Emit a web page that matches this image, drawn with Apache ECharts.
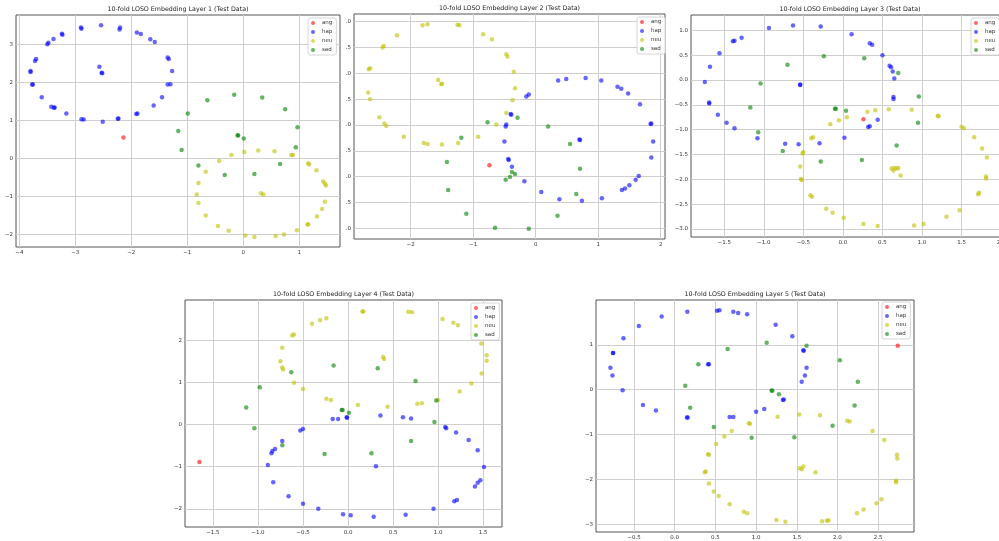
<!DOCTYPE html>
<html>
<head>
<meta charset="utf-8">
<script src="https://cdn.jsdelivr.net/npm/echarts@6/dist/echarts.min.js"></script>
<style>
  html, body { margin: 0; padding: 0; background: #fff; }
  #main { width: 999px; height: 541px; }
</style>
</head>
<body>
<div id="main"></div>
<script>
// layer 1
var l1Ang = [[-2.14, 0.55]];
var l1Hap = [[-2.90, 3.44], [-2.89, 3.41], [-2.54, 3.50], [-2.20, 3.44], [-2.21, 3.39], [-3.24, 3.28], [-3.23, 3.25],
    [-3.39, 3.14], [-3.48, 3.04], [-3.50, 3.00], [-3.70, 2.61], [-3.72, 2.56], [-3.80, 2.30], [-3.80, 2.27],
    [-3.77, 1.94], [-3.76, 1.94], [-3.60, 1.61], [-3.43, 1.36], [-3.38, 1.33], [-3.37, 1.34], [-3.16, 1.18],
    [-2.89, 1.03], [-2.85, 1.02], [-2.51, 0.96], [-2.24, 1.04], [-2.23, 1.05], [-1.91, 1.17], [-1.89, 1.18],
    [-1.60, 1.39], [-1.45, 1.61], [-1.35, 1.94], [-1.30, 1.95], [-1.27, 2.30], [-1.35, 2.65], [-1.33, 2.61],
    [-1.58, 3.06], [-1.66, 3.13], [-1.90, 3.31], [-1.83, 3.27], [-2.57, 2.41], [-2.53, 2.25], [-2.52, 2.24]];
var l1Neu = [[-0.21, 0.09], [-0.43, -0.07], [0.02, 0.17], [0.27, 0.21], [0.56, 0.19], [0.86, 0.09], [0.89, 0.09],
    [1.16, -0.13], [1.18, -0.16], [1.31, -0.31], [1.43, -0.61], [1.46, -0.66], [1.48, -0.71], [1.46, -1.14],
    [1.41, -1.33], [1.32, -1.53], [1.16, -1.73], [1.15, -1.74], [0.96, -1.89], [0.73, -2.00], [0.58, -2.04],
    [0.20, -2.07], [0.04, -2.03], [-0.26, -1.90], [-0.45, -1.78], [-0.67, -1.50], [-0.80, -1.17], [-0.83, -0.95],
    [-0.80, -0.65], [-0.67, -0.35], [0.32, -0.92], [0.36, -0.95]];
var l1Sad = [[-0.64, 1.53], [-0.16, 1.67], [0.34, 1.60], [0.75, 1.29], [0.97, 0.82], [0.94, 0.29], [-0.10, 0.61],
    [-0.09, 0.60], [0.01, 0.52], [-0.99, 1.18], [-1.16, 0.72], [-1.10, 0.22], [-0.80, -0.19], [-0.33, -0.44],
    [0.20, -0.41], [0.66, -0.15]];

// layer 2
var l2Ang = [[-0.74, -0.78]];
var l2Hap = [[0.36, 0.86], [0.49, 0.89], [0.80, 0.91], [1.05, 0.86], [1.31, 0.74], [1.37, 0.70], [1.48, 0.61],
    [1.67, 0.40], [1.85, 0.03], [1.84, 0.02], [1.88, -0.32], [1.85, -0.63], [1.65, -0.99], [1.60, -1.06],
    [1.50, -1.17], [1.43, -1.23], [1.38, -1.26], [1.06, -1.42], [0.74, -1.47], [0.38, -1.44], [0.09, -1.30],
    [-0.18, -1.09], [-0.38, -0.81], [-0.43, -0.68], [-0.44, -0.66], [-0.50, -0.32], [-0.47, 0.01], [-0.48, -0.03],
    [-0.39, 0.20], [-0.40, 0.21], [-0.15, 0.55], [-0.11, 0.59], [0.70, -0.28], [0.71, -0.29]];
var l2Neu = [[-1.81, 1.93], [-1.73, 1.95], [-1.25, 1.94], [-1.22, 1.93], [-2.22, 1.74], [-0.84, 1.76], [-0.70, 1.66],
    [-2.45, 1.50], [-2.43, 1.53], [-0.47, 1.37], [-0.45, 1.32], [-2.67, 1.08], [-2.65, 1.10], [-0.35, 1.03],
    [-1.56, 0.87], [-1.51, 0.79], [-1.50, 0.80], [-0.33, 0.71], [-2.68, 0.63], [-2.65, 0.50], [-0.37, 0.48],
    [-0.47, 0.23], [-2.50, 0.15], [-2.42, 0.03], [-2.39, -0.02], [-0.63, 0.01], [-2.11, -0.23], [-0.92, -0.23],
    [-1.79, -0.35], [-1.73, -0.37], [-1.50, -0.38], [-1.24, -0.35]];
var l2Sad = [[-0.77, 0.05], [-0.29, 0.14], [0.20, -0.03], [0.55, -0.37], [0.71, -0.85], [-1.19, -0.25], [-1.42, -0.72],
    [-1.40, -1.26], [-1.11, -1.72], [-0.65, -1.99], [-0.11, -2.01], [0.35, -1.76], [0.65, -1.34], [-0.48, -1.06],
    [-0.41, -1.01], [-0.38, -0.91], [-0.33, -0.95]];

// layer 3
var l3Ang = [[0.26, -0.79]];
var l3Hap = [[-1.745, -0.04], [-1.68, 0.27], [-1.69, -0.45], [-1.69, -0.47], [-1.56, 0.54], [-1.39, 0.78], [-1.37, 0.79],
    [-1.28, 0.85], [-0.935, 1.05], [-0.63, 1.10], [-0.28, 1.08], [0.11, 0.92], [0.34, 0.74], [0.37, 0.71],
    [0.50, 0.50], [0.59, 0.29], [0.61, 0.26], [0.63, 0.17], [0.65, 0.03], [0.64, -0.34], [0.64, -0.38],
    [0.44, -0.80], [0.32, -0.945], [0.34, -0.93], [0.02, -1.16], [-0.295, -1.27], [-0.56, -1.29], [-0.73, -1.28],
    [-1.08, -1.17], [-1.37, -0.97], [-1.47, -0.86], [-1.58, -0.70], [-0.54, -0.09], [-0.54, -0.10]];
var l3Neu = [[0.31, -0.64], [0.41, -0.61], [0.58, -0.59], [0.87, -0.60], [1.20, -0.72], [1.21, -0.73], [1.50, -0.94],
    [1.53, -0.97], [1.66, -1.15], [1.76, -1.38], [1.82, -1.56], [1.81, -1.94], [1.81, -1.98], [1.72, -2.27],
    [1.71, -2.30], [1.475, -2.62], [1.31, -2.75], [1.02, -2.90], [0.90, -2.93], [0.26, -2.90], [0.44, -2.94],
    [0.01, -2.77], [-0.13, -2.67], [-0.21, -2.59], [-0.41, -2.32], [-0.39, -2.35], [-0.53, -1.99], [-0.52, -2.01],
    [-0.54, -1.74], [-0.50, -1.45], [-0.51, -1.48], [-0.40, -1.17], [-0.375, -1.15], [-0.16, -0.89], [-0.05, -0.81],
    [0.05, -0.75], [0.615, -1.78], [0.65, -1.77], [0.68, -1.78], [0.64, -1.82], [0.70, -1.77], [0.73, -1.92]];
var l3Sad = [[-0.70, 0.31], [-0.24, 0.48], [0.27, 0.44], [0.70, 0.14], [0.96, -0.33], [0.95, -0.86], [0.68, -1.32],
    [0.24, -1.61], [-0.28, -1.64], [-0.76, -1.43], [-1.07, -1.05], [-1.17, -0.55], [-1.04, -0.07], [-0.09, -0.58],
    [-0.10, -0.58], [0.04, -0.62]];

// layer 4
var l4Ang = [[-1.65, -0.89]];
var l4Hap = [[-0.17, 0.13], [-0.11, 0.13], [-0.015, 0.17], [-0.01, 0.16], [0.36, 0.21], [0.61, 0.17], [0.70, 0.14],
    [1.08, -0.06], [1.09, -0.09], [1.20, -0.19], [1.34, -0.37], [1.44, -0.61], [1.51, -1.01], [1.47, -1.32],
    [1.44, -1.38], [1.41, -1.47], [1.21, -1.79], [1.18, -1.82], [0.95, -2.00], [0.64, -2.14], [0.285, -2.19],
    [0.03, -2.15], [-0.055, -2.13], [-0.33, -2.00], [-0.50, -1.88], [-0.66, -1.70], [-0.83, -1.37], [-0.89, -0.96],
    [-0.85, -0.68], [-0.84, -0.63], [-0.81, -0.58], [-0.73, -0.39], [-0.53, -0.14], [-0.50, -0.11], [0.31, -0.99]];
var l4Neu = [[0.16, 2.68], [0.17, 2.68], [0.67, 2.67], [0.71, 2.66], [-0.24, 2.52], [-0.31, 2.47], [-0.40, 2.39],
    [1.05, 2.50], [1.17, 2.41], [1.22, 2.35], [1.39, 2.14], [-0.60, 2.13], [-0.62, 2.11], [1.48, 1.92],
    [-0.73, 1.82], [1.54, 1.64], [1.54, 1.51], [-0.75, 1.50], [-0.73, 1.35], [-0.72, 1.30], [0.39, 1.60],
    [0.40, 1.55], [1.485, 1.21], [1.37, 0.97], [1.24, 0.78], [-0.60, 0.99], [-0.50, 0.84], [-0.24, 0.61],
    [-0.19, 0.58], [0.11, 0.46], [0.44, 0.42], [0.77, 0.49], [0.82, 0.50], [1.00, 0.58]];
var l4Sad = [[-1.13, 0.40], [-0.98, 0.88], [-1.04, -0.09], [-0.63, 1.24], [-0.16, 1.40], [0.33, 1.33], [0.75, 1.03],
    [0.98, 0.57], [0.96, 0.06], [0.70, -0.39], [0.26, -0.68], [-0.26, -0.70], [-0.73, -0.49], [-0.07, 0.34],
    [-0.06, 0.34], [0.01, 0.28]];

// layer 5
var l5Ang = [[2.74, 0.98]];
var l5Hap = [[-0.79, 0.49], [-0.765, 0.32], [-0.76, 0.82], [-0.755, 0.82], [-0.64, -0.01], [-0.63, 1.15], [-0.44, 1.42],
    [-0.39, -0.34], [-0.23, -0.46], [-0.16, 1.63], [0.155, 1.74], [0.15, -0.62], [0.16, -0.62], [0.41, 0.57],
    [0.42, 0.57], [0.52, 1.76], [0.55, 1.77], [0.72, 1.74], [0.78, 1.71], [0.89, 1.68], [1.24, 1.45], [1.445, 1.19],
    [1.58, 0.88], [1.585, 0.87], [1.62, 0.49], [1.60, 0.32], [1.56, 0.18], [1.34, -0.22], [1.33, -0.23],
    [1.10, -0.43], [1.00, -0.49], [0.72, -0.61], [0.675, -0.61]];
var l5Neu = [[1.265, -0.60], [1.53, -0.55], [1.785, -0.57], [2.12, -0.69], [2.15, -0.71], [2.43, -0.92], [2.575, -1.12],
    [2.73, -1.45], [2.735, -1.53], [2.72, -2.03], [2.72, -2.06], [2.54, -2.44], [2.48, -2.53], [2.32, -2.67],
    [2.24, -2.75], [1.89, -2.91], [1.87, -2.92], [1.81, -2.93], [1.36, -2.94], [1.25, -2.905], [0.89, -2.75],
    [0.85, -2.72], [0.675, -2.55], [0.54, -2.37], [0.48, -2.27], [0.42, -2.09], [0.38, -1.82], [0.37, -1.84],
    [0.42, -1.45], [0.41, -1.44], [0.51, -1.21], [0.61, -1.04], [0.70, -0.92], [0.91, -0.745], [0.925, -0.76],
    [1.535, -1.75], [1.56, -1.77], [1.58, -1.71], [1.73, -1.84]];
var l5Sad = [[0.13, 0.09], [0.29, 0.57], [0.65, 0.91], [1.13, 1.05], [1.62, 0.98], [2.03, 0.66], [2.25, 0.18],
    [2.21, -0.35], [1.94, -0.80], [1.47, -1.06], [0.945, -1.07], [0.48, -0.83], [0.19, -0.40], [1.19, -0.015],
    [1.20, -0.02], [1.28, -0.10]];

// tick labels
var l1XTicks = [-4, -3, -2, -1, 0, 1];
var l1YTicks = [-2, -1, 0, 1, 2, 3];
var l2XTicks = [-2, -1, 0, 1, 2];
var l2YTicks = [-2, -1.5, -1, -0.5, 0, 0.5, 1, 1.5, 2];
var l3XTicks = [-1.5, -1, -0.5, 0, 0.5, 1, 1.5, 2];
var l3YTicks = [-3, -2.5, -2, -1.5, -1, -0.5, 0, 0.5, 1];
var l4XTicks = [-1.5, -1, -0.5, 0, 0.5, 1, 1.5];
var l4YTicks = [-2, -1, 0, 1, 2];
var l5XTicks = [-0.5, 0, 0.5, 1, 1.5, 2, 2.5];
var l5YTicks = [-3, -2, -1, 0, 1];

var classNames = ['ang', 'hap', 'neu', 'sad'];
var classColors = ['#ff0000', '#0000ff', '#bfbf00', '#008000'];

var layers = [
    {data: [l1Ang, l1Hap, l1Neu, l1Sad], xt: l1XTicks, yt: l1YTicks, xr: [-4.06, 1.73], yr: [-2.33, 3.77], dec: [0, 0],
        box: [16, 15, 324, 232], leg: [308, 18]},
    {data: [l2Ang, l2Hap, l2Neu, l2Sad], xt: l2XTicks, yt: l2YTicks, xr: [-2.907, 2.07], yr: [-2.21, 2.15], dec: [0, -1],
        box: [354, 14, 311, 225], leg: [637, 17]},
    {data: [l3Ang, l3Hap, l3Neu, l3Sad], xt: l3XTicks, yt: l3YTicks, xr: [-1.92, 2.1], yr: [-3.16, 1.31], dec: [1, 1],
        box: [691, 15, 318, 222], leg: [971, 18]},
    {data: [l4Ang, l4Hap, l4Neu, l4Sad], xt: l4XTicks, yt: l4YTicks, xr: [-1.81, 1.71], yr: [-2.43, 2.95], dec: [1, 0],
        box: [185, 300, 317, 227], leg: [471, 303]},
    {data: [l5Ang, l5Hap, l5Neu, l5Sad], xt: l5XTicks, yt: l5YTicks, xr: [-0.967, 2.94], yr: [-3.17, 2.0], dec: [1, 0],
        box: [596, 300, 318, 232], leg: [882, 302]}
];

var fontName = 'DejaVu Sans';

function fmt(dec) {
    return function (v) {
        var s = Math.abs(v).toFixed(dec < 0 ? 1 : dec);
        if (dec < 0) {
            // labels of layer 2 are cut off on the left, only the decimal part shows
            return s.slice(s.indexOf('.'));
        }
        return (v < 0 ? '\u2212' : '') + s;
    };
}

function makeAxis(i, ticks, range, dec) {
    return {
        type: 'value',
        gridIndex: i,
        min: range[0],
        max: range[1],
        axisLine: {show: false},
        axisTick: {show: true, length: 3, customValues: ticks, lineStyle: {color: '#555', width: 1}},
        axisLabel: {customValues: ticks, formatter: fmt(dec), fontSize: 5.5, color: '#333', margin: 3, fontFamily: fontName},
        splitLine: {show: false}
    };
}

var grids = [], xAxes = [], yAxes = [], titles = [], legends = [], series = [];
layers.forEach(function (L, i) {
    grids.push({
        left: L.box[0], top: L.box[1], width: L.box[2], height: L.box[3],
        containLabel: false,
        outerBoundsMode: 'none',
        show: true, borderColor: '#555', borderWidth: 1
    });
    xAxes.push(makeAxis(i, L.xt, L.xr, L.dec[0]));
    yAxes.push(makeAxis(i, L.yt, L.yr, L.dec[1]));
    titles.push({
        text: '10-fold LOSO Embedding Layer ' + (i + 1) + ' (Test Data)',
        left: L.box[0] + L.box[2] / 2,
        top: L.box[1] - 9,
        textAlign: 'center',
        padding: 0,
        textStyle: {fontSize: 6.3, fontWeight: 'normal', color: '#222', fontFamily: fontName}
    });
    legends.push({
        data: classNames,
        orient: 'vertical',
        left: L.leg[0],
        top: L.leg[1],
        z: 10,
        icon: 'circle',
        itemWidth: 4,
        itemHeight: 4,
        itemGap: 3,
        padding: [2, 4, 2, 3],
        borderColor: '#ccc',
        borderWidth: 0.8,
        borderRadius: 2,
        backgroundColor: 'rgba(255,255,255,0.85)',
        textStyle: {fontSize: 5.5, color: '#333', fontFamily: fontName, padding: [0, 0, 0, 2]}
    });
    // grid lines at the tick values, drawn through the axes
    var gridLines = [];
    L.xt.forEach(function (v) { gridLines.push({xAxis: v}); });
    L.yt.forEach(function (v) { gridLines.push({yAxis: v}); });
    series.push({
        name: 'grid' + i,
        type: 'scatter',
        xAxisIndex: i,
        yAxisIndex: i,
        data: [],
        z: 1,
        silent: true,
        markLine: {
            z: 1,
            silent: true,
            symbol: 'none',
            label: {show: false},
            lineStyle: {color: '#cfcfcf', width: 1, type: 'solid'},
            emphasis: {disabled: true},
            data: gridLines
        }
    });
    L.data.forEach(function (pts, k) {
        series.push({
            name: classNames[k],
            type: 'scatter',
            xAxisIndex: i,
            yAxisIndex: i,
            data: pts,
            z: 3,
            symbolSize: 4.5,
            itemStyle: {color: classColors[k], opacity: 0.6}
        });
    });
});

var myChart = echarts.init(document.getElementById('main'));
myChart.setOption({
    animation: false,
    backgroundColor: '#fff',
    title: titles,
    legend: legends,
    grid: grids,
    xAxis: xAxes,
    yAxis: yAxes,
    series: series
});
</script>
</body>
</html>
